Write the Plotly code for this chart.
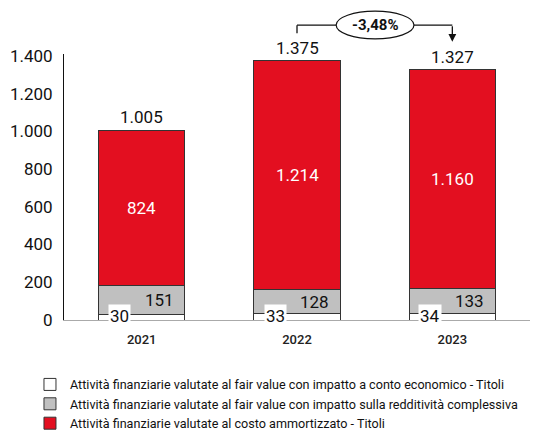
import plotly.graph_objects as go

years = ["2021", "2022", "2023"]
fv_ce = [30, 33, 34]          # white
fv_oci = [151, 128, 133]      # gray
costo = [824, 1214, 1160]     # red
totals = [1005, 1375, 1327]
ytick_vals = [0, 200, 400, 600, 800, 1000, 1200, 1400]
ytick_text = ["0", "200", "400", "600", "800", "1.000", "1.200", "1.400"]
change_label = "-3,48%"
names = [
    "Attività finanziarie valutate al fair value con impatto a conto economico - Titoli",
    "Attività finanziarie valutate al fair value con impatto sulla redditività complessiva",
    "Attività finanziarie valutate al costo ammortizzato - Titoli",
]
colors = ["#FFFFFF", "#C0C0C0", "#E30F20"]

FONT = "Roboto"
YMAX = 1410
xpos = list(range(len(years)))


def fmt(v):
    return f"{v:,}".replace(",", ".")


fig = go.Figure()
for vals, name, col in zip([fv_ce, fv_oci, costo], names, colors):
    fig.add_trace(go.Bar(
        x=xpos, y=vals, name=name, width=0.555,
        marker=dict(color=col, line=dict(color="#333333", width=1)),
        hoverinfo="skip",
    ))

ann = []
for i in xpos:
    ann.append(dict(x=i, y=fv_ce[i] / 2, text=str(fv_ce[i]), showarrow=False,
                    xshift=-22, yshift=1, bgcolor="white", borderpad=1,
                    font=dict(size=17, color="#111111", family=FONT)))
    ann.append(dict(x=i, y=fv_ce[i] + fv_oci[i] / 2, text=str(fv_oci[i]), showarrow=False,
                    xanchor="right", xshift=34,
                    font=dict(size=17, color="#111111", family=FONT)))
    ann.append(dict(x=i, y=fv_ce[i] + fv_oci[i] + costo[i] / 2, text=fmt(costo[i]),
                    showarrow=False,
                    font=dict(size=17, color="white", family=FONT)))
    ann.append(dict(x=i, y=totals[i], text=fmt(totals[i]), showarrow=False,
                    yanchor="bottom", yshift=1,
                    font=dict(size=17, color="#111111", family=FONT)))


def px_x(i):
    return (i + 0.5) / 3.0


def py(v):
    return v / YMAX


x1, x2 = px_x(1), px_x(2)
ybr = py(1563)
ex0, ex1 = 0.584, 0.751
shapes = [
    dict(type="line", xref="paper", yref="paper", x0=x1, x1=x1, y0=py(1520), y1=ybr,
         line=dict(color="#111111", width=1.3)),
    dict(type="line", xref="paper", yref="paper", x0=x1, x1=ex0, y0=ybr, y1=ybr,
         line=dict(color="#111111", width=1.3)),
    dict(type="line", xref="paper", yref="paper", x0=ex1, x1=x2, y0=ybr, y1=ybr,
         line=dict(color="#111111", width=1.3)),
    dict(type="circle", xref="paper", yref="paper", x0=ex0, x1=ex1, y0=py(1490), y1=py(1637),
         line=dict(color="#111111", width=1.2), fillcolor="white"),
]
ann.append(dict(xref="paper", yref="paper", x=(ex0 + ex1) / 2, y=ybr, text=f"<b>{change_label}</b>",
                xanchor="center", yanchor="middle",
                showarrow=False, font=dict(size=15, color="#111111", family=FONT)))
ann.append(dict(xref="paper", yref="paper", x=x2, y=py(1475), ax=0, ay=-17,
                text="", showarrow=True, arrowhead=2, arrowsize=1.2,
                arrowwidth=1.3, arrowcolor="#111111", standoff=0))

fig.update_layout(
    barmode="stack",
    width=539, height=432,
    margin=dict(l=64, r=9, t=54, b=112, pad=0, autoexpand=False),
    plot_bgcolor="white", paper_bgcolor="white",
    font=dict(family=FONT, color="#111111"),
    showlegend=True,
    legend=dict(orientation="v", x=-0.073, xanchor="left", y=-0.187, yanchor="top",
                traceorder="normal", font=dict(size=12.6, family=FONT, color="#111111"),
                tracegroupgap=0),
    annotations=ann,
    shapes=shapes,
)
fig.update_xaxes(range=[-0.5, 2.5], tickvals=xpos, ticktext=years, showline=True,
                 linecolor="#AAAAAA", linewidth=1, ticks="outside", ticklen=7,
                 tickcolor="rgba(0,0,0,0)", zeroline=False,
                 tickfont=dict(size=13, family=FONT, color="#222222", weight=500), showgrid=False)
fig.update_yaxes(range=[0, YMAX], showline=True, linecolor="#111111", linewidth=1,
                 tickvals=ytick_vals, ticktext=ytick_text, ticks="outside", ticklen=7,
                 tickcolor="rgba(0,0,0,0)", showgrid=False,
                 zeroline=False, tickfont=dict(size=17, family=FONT, color="#111111"))

fig.write_html("out.html", config={"displayModeBar": False},
               post_script="document.body.style.margin='0';")
